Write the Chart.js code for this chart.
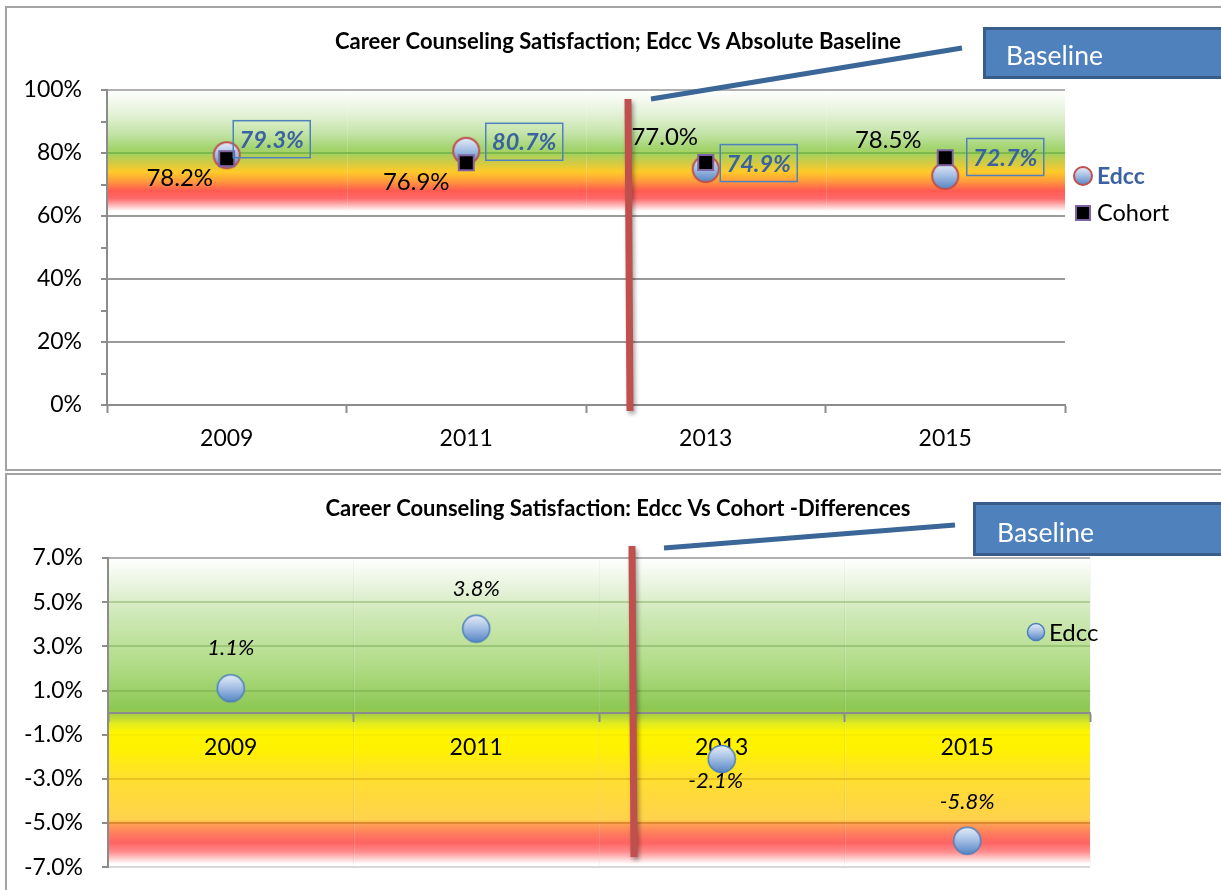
<!DOCTYPE html>
<html><head><meta charset="utf-8">
<script src="https://cdn.jsdelivr.net/npm/chart.js@4.4.0/dist/chart.umd.min.js"></script>
<style>
html,body{margin:0;padding:0;background:#fff;width:1221px;height:890px;overflow:hidden;position:relative;font-family:Lato,sans-serif}
.frame{position:absolute;border:2px solid #a3a3a3;box-sizing:border-box}
#f1{left:5px;top:6px;width:1240px;height:465px}
#f2{left:5px;top:473px;width:1240px;height:440px}
canvas{position:absolute;left:0}
#c1{top:0}
#c2{top:472px}
</style></head>
<body>
<div class="frame" id="f1"></div><div class="frame" id="f2"></div>
<canvas id="c1" width="1221" height="470"></canvas>
<canvas id="c2" width="1221" height="428"></canvas>
<script>
// ---- data ----
const categories = ['2009', '2011', '2013', '2015'];
const edccValues = [79.3, 80.7, 74.9, 72.7];
const cohortValues = [78.2, 76.9, 77.0, 78.5];
const diffValues = [1.1, 3.8, -2.1, -5.8];
const title1 = 'Career Counseling Satisfaction; Edcc Vs Absolute Baseline';
const title2 = 'Career Counseling Satisfaction: Edcc Vs Cohort -Differences';

const FONT = 'Lato';
const GRAY = '#8c8c8c';

function makeCircle(r, lw, stroke) {
  const s = Math.ceil(2 * r + lw * 2 + 2);
  const cv = document.createElement('canvas'); cv.width = s; cv.height = s;
  const g = cv.getContext('2d'); const c = s / 2;
  const gr = g.createLinearGradient(0, c - r, 0, c + r);
  gr.addColorStop(0, '#E6EDF7'); gr.addColorStop(0.45, '#A9C2E6'); gr.addColorStop(1, '#5586C4');
  g.beginPath(); g.arc(c, c, r, 0, Math.PI * 2); g.fillStyle = gr; g.fill();
  g.lineWidth = lw; g.strokeStyle = stroke; g.stroke();
  return cv;
}
function makeSquare(sz, lw) {
  const s = sz + 2;
  const cv = document.createElement('canvas'); cv.width = s; cv.height = s;
  const g = cv.getContext('2d');
  g.fillStyle = '#000'; g.fillRect(1, 1, sz, sz);
  g.lineWidth = lw; g.strokeStyle = '#8064A2'; g.strokeRect(1 + lw / 2, 1 + lw / 2, sz - lw, sz - lw);
  return cv;
}
const edccImg = makeCircle(13, 2, '#C0504D');
const cohortImg = makeSquare(17, 2);
const diffImg = makeCircle(13.5, 1.5, '#4A7EBB');
const edccLeg = makeCircle(9, 2, '#C0504D');
const cohortLeg = makeSquare(16, 2);
const diffLeg = makeCircle(8.5, 1.5, '#4A7EBB');

function band(chart, stops, v0, v1) {
  const {ctx, chartArea: a, scales: {y}} = chart;
  const y0 = y.getPixelForValue(v0), y1 = y.getPixelForValue(v1);
  const g = ctx.createLinearGradient(0, y0, 0, y1);
  stops.forEach(([v, c]) => g.addColorStop(Math.min(1, Math.max(0, (y.getPixelForValue(v) - y0) / (y1 - y0))), c));
  ctx.save(); ctx.fillStyle = g; ctx.fillRect(a.left, y0, a.right - a.left, y1 - y0);
  const x = chart.scales.x;
  ctx.strokeStyle = 'rgba(255,255,255,0.18)'; ctx.lineWidth = 1;
  for (let i = 1; i < categories.length; i++) {
    const px = Math.round(x.getPixelForValue(i - 0.5)) + 0.5;
    ctx.beginPath(); ctx.moveTo(px, y0); ctx.lineTo(px, y1); ctx.stroke();
  }
  ctx.restore();
}
function redLine(ctx, x0, y0, x1, y1) {
  ctx.save();
  ctx.shadowColor = 'rgba(0,0,0,0.35)'; ctx.shadowBlur = 4; ctx.shadowOffsetX = 2; ctx.shadowOffsetY = 3;
  ctx.strokeStyle = '#C0504D'; ctx.lineWidth = 7; ctx.lineCap = 'butt';
  ctx.beginPath(); ctx.moveTo(x0, y0); ctx.lineTo(x1, y1); ctx.stroke();
  ctx.restore();
}
function callout(ctx, bx, by, bw, bh, tx, ty, lx0, ly0, lx1, ly1) {
  ctx.save();
  ctx.strokeStyle = '#3B6698'; ctx.lineWidth = 5;
  ctx.beginPath(); ctx.moveTo(lx0, ly0); ctx.lineTo(lx1, ly1); ctx.stroke();
  ctx.fillStyle = '#4F81BD'; ctx.fillRect(bx, by, bw, bh);
  ctx.strokeStyle = '#385D8A'; ctx.lineWidth = 3; ctx.strokeRect(bx + 1.5, by + 1.5, bw, bh - 3);
  ctx.fillStyle = '#fff'; ctx.font = '26.5px ' + FONT; ctx.textBaseline = 'middle'; ctx.textAlign = 'left';
  ctx.fillText('Baseline', tx, ty);
  ctx.restore();
}

const decor1 = {
  id: 'decor1',
  beforeDraw(chart) {
    band(chart, [[100, '#FFFFFF'], [92, '#E2F1D5'], [86, '#C2E3A6'], [81.5, '#A2D46E'], [79.5, '#A8D15C'],
      [77, '#CFCB45'], [74, '#FFCB28'], [71, '#FF9A3C'], [68, '#FF5A52'], [65.5, '#FF6A6A'],
      [63, '#FFC8C8'], [61.5, '#FFFFFF']], 100, 61.5);
  },
  afterDraw(chart) {
    const ctx = chart.ctx;
    ctx.save();
    ctx.fillStyle = '#000'; ctx.font = 'bold 22px ' + FONT; ctx.textAlign = 'center'; ctx.textBaseline = 'middle';
    ctx.fillText(title1, 618, 42);
    const eOff = [[45, -16], [58, -9], [53, -6], [60, -19]];
    chart.getDatasetMeta(0).data.forEach((p, i) => {
      const cx = p.x + eOff[i][0], cy = p.y + eOff[i][1];
      ctx.strokeStyle = '#4F81BD'; ctx.lineWidth = 1.5;
      ctx.strokeRect(cx - 38.5, cy - 18.5, 77, 37);
      ctx.fillStyle = '#3A62A0'; ctx.font = 'italic bold 23.5px ' + FONT;
      ctx.fillText(edccValues[i].toFixed(1) + '%', cx, cy + 1);
    });
    const cOff = [[-47, 20], [-50, 20], [-41, -25], [-57, -17]];
    chart.getDatasetMeta(1).data.forEach((p, i) => {
      ctx.fillStyle = '#000'; ctx.font = '24px ' + FONT;
      ctx.fillText(cohortValues[i].toFixed(1) + '%', p.x + cOff[i][0], p.y + cOff[i][1]);
    });
    ctx.drawImage(edccLeg, 1083 - edccLeg.width / 2, 176 - edccLeg.height / 2);
    ctx.drawImage(cohortLeg, 1083 - cohortLeg.width / 2, 213 - cohortLeg.height / 2);
    ctx.textAlign = 'left';
    ctx.fillStyle = '#3A62A0'; ctx.font = 'bold 23px ' + FONT; ctx.fillText('Edcc', 1097, 177);
    ctx.fillStyle = '#000'; ctx.font = '23.5px ' + FONT; ctx.fillText('Cohort', 1097, 213);
    ctx.restore();
    redLine(ctx, 628, 99, 630, 411);
    callout(ctx, 983, 27, 250, 52, 1006, 56, 962, 48, 651, 99);
  }
};

const decor2 = {
  id: 'decor2',
  beforeDraw(chart) {
    band(chart, [[7, '#FFFFFF'], [5.5, '#E4F2D8'], [4.5, '#CFE9B8'], [2, '#AFDB84'], [0.2, '#8DC853'],
      [0, '#9CCB45'], [-0.5, '#E2EC20'], [-0.9, '#FFF500'], [-1.6, '#FFF200'], [-3, '#FFDF30'],
      [-4.85, '#FFD24C'], [-5.05, '#FFA055'], [-5.5, '#FF7A5E'], [-5.9, '#FF6464'], [-6.3, '#FF8C8C'],
      [-6.85, '#FFFFFF']], 7, -6.9);
  },
  afterDraw(chart) {
    const ctx = chart.ctx;
    ctx.save();
    ctx.fillStyle = '#000'; ctx.font = 'bold 22px ' + FONT; ctx.textAlign = 'center'; ctx.textBaseline = 'middle';
    ctx.fillText(title2, 618, 37);
    const dOff = [[0, -40], [0, -40], [-6, 22], [0, -39]];
    chart.getDatasetMeta(0).data.forEach((p, i) => {
      ctx.fillStyle = '#000'; ctx.font = 'italic 22px ' + FONT;
      ctx.fillText(diffValues[i].toFixed(1) + '%', p.x + dOff[i][0], p.y + dOff[i][1]);
    });
    ctx.drawImage(diffLeg, 1036 - diffLeg.width / 2, 160 - diffLeg.height / 2);
    ctx.textAlign = 'left'; ctx.fillStyle = '#000'; ctx.font = '24px ' + FONT;
    ctx.fillText('Edcc', 1049, 161);
    ctx.restore();
    redLine(ctx, 632, 74, 634, 385);
    callout(ctx, 973, 30, 260, 54, 997, 61, 955, 53, 664, 76);
  }
};

const baseFont = {family: FONT, size: 23};

new Chart(document.getElementById('c1'), {
  type: 'line',
  data: {
    labels: categories,
    datasets: [
      {label: 'Edcc', data: edccValues, showLine: false, pointStyle: edccImg, pointRadius: 13, order: 1},
      {label: 'Cohort', data: cohortValues, showLine: false, pointStyle: cohortImg, pointRadius: 9, order: 0}
    ]
  },
  options: {
    responsive: false, animation: false, events: [],
    layout: {padding: {left: 0, right: 156, top: 90, bottom: 0}},
    plugins: {legend: {display: false}, title: {display: false}, tooltip: {enabled: false}},
    scales: {
      x: {
        type: 'category', offset: true,
        grid: {offset: true, drawOnChartArea: false, drawTicks: true, tickLength: 8, tickColor: GRAY, tickWidth: 2},
        border: {color: GRAY, width: 2},
        ticks: {font: baseFont, color: '#000', padding: 12},
        afterFit(s) { s.height = 65; }
      },
      y: {
        min: 0, max: 100,
        ticks: {stepSize: 10, font: baseFont, color: '#000', padding: 19,
          callback: v => (v % 20 === 0 ? v + '%' : '')},
        grid: {
          color: c => {
            const v = c.tick.value;
            if (v % 20 !== 0) return 'rgba(0,0,0,0)';
            if (v === 80) return 'rgba(110,175,70,0.75)';
            if (v === 100) return '#b0b0b0';
            return '#9a9a9a';
          },
          lineWidth: 2, tickColor: GRAY, tickLength: 6, tickWidth: 2
        },
        border: {color: GRAY, width: 2},
        afterFit(s) { s.width = 107; }
      }
    }
  },
  plugins: [decor1]
});

new Chart(document.getElementById('c2'), {
  type: 'line',
  data: {
    labels: categories,
    datasets: [
      {label: 'Edcc', data: diffValues, showLine: false, pointStyle: diffImg, pointRadius: 13}
    ]
  },
  options: {
    responsive: false, animation: false, events: [],
    layout: {padding: {left: 0, right: 131, top: 86, bottom: 13}},
    plugins: {legend: {display: false}, title: {display: false}, tooltip: {enabled: false}},
    scales: {
      x: {
        type: 'category', offset: true, position: {y: 0},
        grid: {offset: true, drawOnChartArea: true, color: 'rgba(0,0,0,0.035)', drawTicks: true, tickLength: 8, tickColor: GRAY, tickWidth: 2},
        border: {color: GRAY, width: 2},
        ticks: {font: baseFont, color: '#000', padding: 13}
      },
      y: {
        min: -7, max: 7,
        ticks: {stepSize: 2, font: baseFont, color: '#000', padding: 19,
          callback: v => v.toFixed(1) + '%'},
        grid: {
          color: c => {
            const v = c.tick.value;
            if (v === 7) return '#b0b0b0';
            if (v === -7) return '#d9d9d9';
            if (v > 0) return 'rgba(110,160,70,0.4)';
            if (v === -1) return 'rgba(230,210,0,0.25)';
            if (v === -3) return 'rgba(215,170,20,0.55)';
            return '#E08A30';
          },
          lineWidth: 2, tickColor: GRAY, tickLength: 6, tickWidth: 2
        },
        border: {color: GRAY, width: 2},
        afterFit(s) { s.width = 108; }
      }
    }
  },
  plugins: [decor2]
});
</script>
</body></html>
